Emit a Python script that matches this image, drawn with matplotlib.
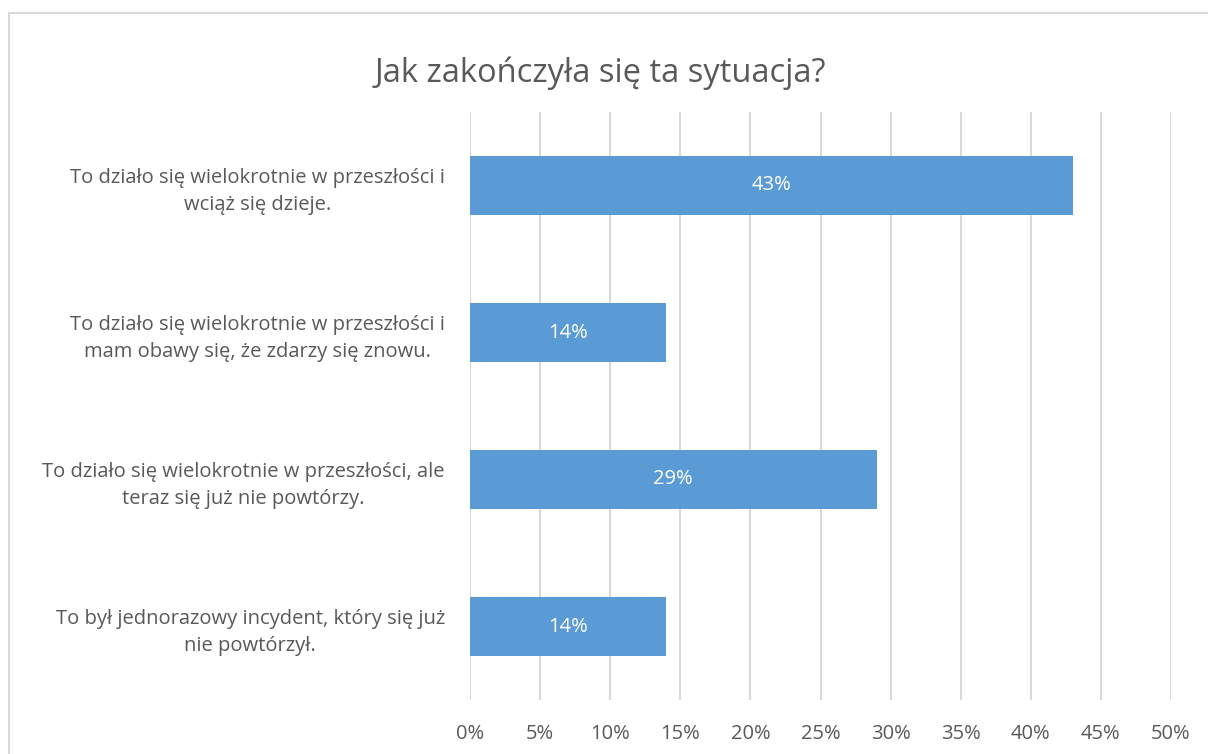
import matplotlib.pyplot as plt
from matplotlib.patches import Rectangle

plt.rcParams['font.family'] = ['Open Sans', 'DejaVu Sans']

# ── Data ────────────────────────────────────────────────────────────────
categories = [
    'To działo się wielokrotnie w przeszłości i\nwciąż się dzieje.',
    'To działo się wielokrotnie w przeszłości i\nmam obawy się, że zdarzy się znowu.',
    'To działo się wielokrotnie w przeszłości, ale\nteraz się już nie powtórzy.',
    'To był jednorazowy incydent, który się już\nnie powtórzył.',
]
values = [43, 14, 29, 14]
xticks = [0, 5, 10, 15, 20, 25, 30, 35, 40, 45, 50]

title = 'Jak zakończyła się ta sytuacja?'
text_color = '#595959'
bar_color = '#5B9BD5'
grid_color = '#D9D9D9'

# ── Figure ──────────────────────────────────────────────────────────────
fig = plt.figure(figsize=(12.08, 7.54), dpi=100)
ax = fig.add_axes([470 / 1208, 1 - 700 / 754, (1171 - 470) / 1208, (700 - 112) / 754])

# outer chart border
fig.patches.append(Rectangle((8.5 / 1208, -0.05), 1.1, 1 - 12.5 / 754 + 0.05,
                             transform=fig.transFigure, fill=False,
                             edgecolor=grid_color, linewidth=1.5))

pos = list(range(len(categories)))
bars = ax.barh(pos, values, height=0.4, color=bar_color, zorder=3)

for b, v in zip(bars, values):
    ax.text(b.get_width() / 2, b.get_y() + b.get_height() / 2, f'{v}%',
            ha='center', va='center', color='white', fontsize=14.5, zorder=4)

ax.set_xlim(0, 50)
ax.set_ylim(3.5, -0.5)
ax.set_xticks(xticks)
ax.set_xticklabels([f'{t}%' for t in xticks], fontsize=14.5, color=text_color)
ax.set_yticks(pos)
ax.set_yticklabels(categories, fontsize=14.5, color=text_color,
                   multialignment='center', linespacing=1.45)
ax.tick_params(axis='both', length=0)
ax.tick_params(axis='x', pad=17)
ax.tick_params(axis='y', pad=18)
ax.grid(axis='x', color=grid_color, linewidth=1.5, zorder=0)
for s in ax.spines.values():
    s.set_visible(False)

fig.text(600 / 1208, 1 - 73 / 754, title, ha='center', va='center',
         fontsize=23.5, color=text_color)

fig.savefig('out.png', dpi=100)
